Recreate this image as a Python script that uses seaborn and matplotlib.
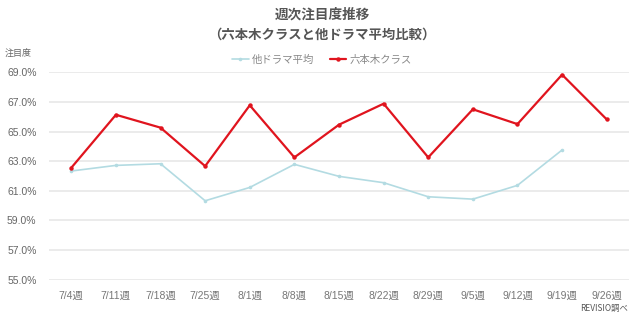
import numpy as np
import pandas as pd
import seaborn as sns
import matplotlib
matplotlib.use("Agg")
import matplotlib.pyplot as plt

weeks = ["7/4週", "7/11週", "7/18週", "7/25週", "8/1週", "8/8週", "8/15週",
         "8/22週", "8/29週", "9/5週", "9/12週", "9/19週", "9/26週"]
roppongi = [62.55, 66.13, 65.26, 62.66, 66.77, 63.25, 65.46, 66.88, 63.25,
            66.50, 65.50, 68.84, 65.82]
others = [62.33, 62.71, 62.82, 60.32, 61.22, 62.78, 61.97, 61.54, 60.59,
          60.43, 61.36, 63.75, np.nan]
series_names = ["他ドラマ平均", "六本木クラス"]
yticks = [55, 57, 59, 61, 63, 65, 67, 69]

df = pd.DataFrame({
    "week": weeks * 2,
    "value": others + roppongi,
    "series": [series_names[0]] * len(weeks) + [series_names[1]] * len(weeks),
})

sns.set_theme(style="white")
plt.rcParams["font.family"] = ["Noto Sans CJK JP", "DejaVu Sans"]
tick_family = ["Liberation Sans", "Noto Sans CJK JP"]

fig = plt.figure(figsize=(6.4, 3.17), dpi=100)
ax = fig.add_axes([49 / 640, 1 - 279.5 / 317, 580 / 640, (279.5 - 72.3) / 317])

palette = {series_names[0]: "#b3dbe2", series_names[1]: "#e0141e"}
widths = {series_names[0]: 1.2, series_names[1]: 1.6}
for name in series_names:
    sub = df[df["series"] == name]
    sns.lineplot(data=sub, x="week", y="value", ax=ax, color=palette[name],
                 marker="o", markersize=3.2 if name == series_names[1] else 2.6,
                 markeredgewidth=0, linewidth=widths[name], label=name,
                 sort=False)

ax.set_ylim(55, 69)
ax.set_xlim(-0.5, len(weeks) - 0.5)
ax.set_yticks(yticks)
ax.set_yticklabels([f"{v:.1f}%" for v in yticks], family=tick_family)
ax.set_xticks(range(len(weeks)))
ax.set_xticklabels(weeks, family=tick_family)
ax.grid(axis="y", color="#e9e9e9", linewidth=1.3)
ax.grid(axis="x", visible=False)
for s in ax.spines.values():
    s.set_visible(False)
ax.set_xlabel("")
ax.set_ylabel("")
ax.tick_params(axis="y", colors="#666666", labelsize=7.5, length=0, pad=9)
ax.tick_params(axis="x", colors="#777777", labelsize=7.5, length=0, pad=8)
ax.set_axisbelow(True)

ax.get_legend().remove()
handles, labels = ax.get_legend_handles_labels()
fig.legend(handles, labels, loc="center", bbox_to_anchor=(322 / 640, 1 - 60 / 317),
           ncol=2, frameon=False, fontsize=7.5, labelcolor="#888888",
           handlelength=1.6, handletextpad=0.3, columnspacing=1.5)

fig.text(322 / 640, 1 - 15 / 317, "週次注目度推移", ha="center", va="center",
         fontsize=9.8, fontweight="bold", color="#555555")
fig.text(322 / 640, 1 - 35 / 317, "（六本木クラスと他ドラマ平均比較）", ha="center",
         va="center", fontsize=9.6, fontweight="bold", color="#555555")
fig.text(5 / 640, 1 - 53 / 317, "注目度", ha="left", va="center",
         fontsize=6.5, color="#666666")
fig.text(628 / 640, 1 - 308 / 317, "REVISIO調べ", ha="right", va="center",
         fontsize=6, color="#555555")

fig.savefig("out.png", dpi=100, facecolor="white")
